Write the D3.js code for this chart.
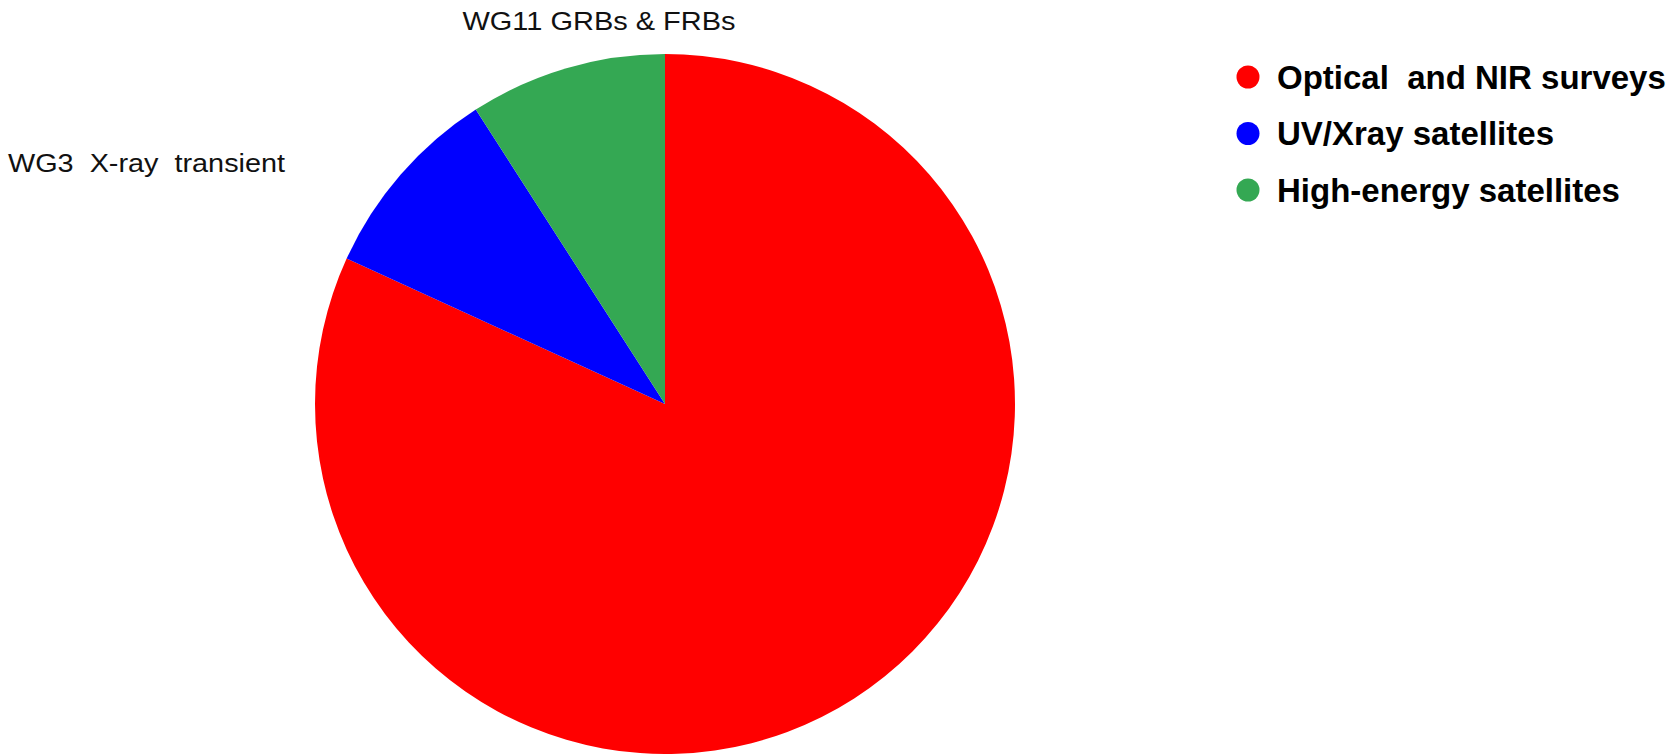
<!DOCTYPE html>
<html>
<head>
<meta charset="utf-8">
<script src="https://cdn.jsdelivr.net/npm/d3@7/dist/d3.min.js"></script>
<style>
  html, body { margin: 0; padding: 0; background: #ffffff; }
  svg { display: block; }
  text { white-space: pre; font-family: "Liberation Sans", Arial, sans-serif; }
</style>
</head>
<body>
<div id="chart"></div>
<script>
// ---- data ----
const categories = ["Optical  and NIR surveys", "UV/Xray satellites", "High-energy satellites"];
const values = [9, 1, 1];
const colors = ["#ff0000", "#0000ff", "#34a853"];
const sliceLabels = ["", "WG3  X-ray  transient", "WG11 GRBs & FRBs"];

// ---- layout ----
const W = 1672, H = 754;
const cx = 665, cy = 404, R = 350;

const svg = d3.select("#chart").append("svg")
  .attr("width", W).attr("height", H);

const pie = d3.pie().sort(null).value(d => d.value);
const arc = d3.arc().innerRadius(0).outerRadius(R);

const data = categories.map((c, i) => ({ name: c, value: values[i], color: colors[i], label: sliceLabels[i] }));
const arcs = pie(data);

const g = svg.append("g").attr("transform", `translate(${cx},${cy})`);
g.selectAll("path").data(arcs).enter().append("path")
  .attr("d", arc)
  .attr("fill", d => d.data.color);

// external slice labels
const labelPos = [null, { x: 8, y: 172, anchor: "start", len: 277 }, { x: 599, y: 30, anchor: "middle", len: 273 }];
arcs.forEach((a, i) => {
  if (!a.data.label) return;
  const p = labelPos[i];
  svg.append("text")
    .attr("x", p.x).attr("y", p.y)
    .attr("text-anchor", p.anchor)
    .attr("font-size", 26)
    .attr("textLength", p.len)
    .attr("lengthAdjust", "spacingAndGlyphs")
    .attr("fill", "#111")
    .text(a.data.label);
});

// legend
const leg = svg.append("g").attr("transform", "translate(1248,77)");
const item = leg.selectAll("g").data(data).enter().append("g")
  .attr("transform", (d, i) => `translate(0,${i * 56.5})`);
item.append("circle").attr("r", 11.5).attr("fill", d => d.color);
item.append("text")
  .attr("x", 29).attr("y", 11.5)
  .attr("font-size", 33).attr("font-weight", "bold")
  .attr("fill", "#000")
  .text(d => d.name);
</script>
</body>
</html>
